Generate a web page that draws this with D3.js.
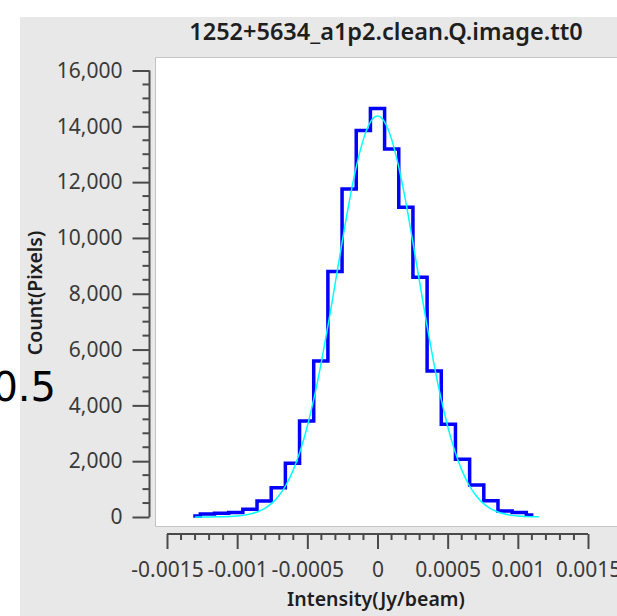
<!DOCTYPE html>
<html>
<head>
<meta charset="utf-8">
<script src="https://cdn.jsdelivr.net/npm/d3@7"></script>
<style>
  html, body { margin: 0; padding: 0; background: #fff; }
  svg { display: block; }
  .tick text { font-family: "Noto Sans", sans-serif; font-size: 21px; fill: #3a3a3a; }
  .axis path, .axis line { stroke: #4a4a4a; stroke-width: 2; }
</style>
</head>
<body>
<div id="chart"></div>
<script>
"use strict";

// histogram bins (Jy/beam) and counts
var binCenters = [-0.001313, -0.001212, -0.001111, -0.001010, -0.000909, -0.000808,
    -0.000707, -0.000606, -0.000505, -0.000404, -0.000303, -0.000202, -0.000101,
    0, 0.000101, 0.000202, 0.000303, 0.000404, 0.000505, 0.000606, 0.000707,
    0.000808, 0.000909, 0.001010, 0.001111];
var binCounts = [36, 110, 130, 160, 276, 573, 1050, 1925, 3441, 5590, 8800, 11756,
    13846, 14634, 13190, 11100, 8591, 5233, 3322, 2068, 1147, 584, 215, 160, 72];

// fitted curve (cyan)
var fitX = [-0.0013, -0.00125, -0.0012, -0.00115, -0.0011, -0.00105, -0.001, -0.00095,
    -0.0009, -0.00085, -0.0008, -0.00075, -0.0007, -0.00065, -0.0006, -0.00055, -0.0005,
    -0.00045, -0.0004, -0.00035, -0.0003, -0.00025, -0.0002, -0.00015, -0.0001, -0.00005,
    0, 0.00005, 0.0001, 0.00015, 0.0002, 0.00025, 0.0003, 0.00035, 0.0004, 0.00045,
    0.0005, 0.00055, 0.0006, 0.00065, 0.0007, 0.00075, 0.0008, 0.00085, 0.0009,
    0.00095, 0.001, 0.00105, 0.0011, 0.00115];
var fitY = [1, 2, 3, 6, 11, 20, 38, 67, 116, 196, 320, 507, 780, 1165, 1690, 2379, 3251,
    4311, 5551, 6937, 8415, 9910, 11330, 12571, 13541, 14158, 14370, 14158, 13541,
    12571, 11330, 9910, 8415, 6937, 5551, 4311, 3251, 2379, 1690, 1165, 780, 507, 320,
    196, 116, 67, 38, 20, 11, 6];

var xTickValues = [-0.0015, -0.001, -0.0005, 0, 0.0005, 0.001, 0.0015];
var xTickLabels = ["-0.0015", "-0.001", "-0.0005", "0", "0.0005", "0.001", "0.0015"];
var yTickValues = [0, 2000, 4000, 6000, 8000, 10000, 12000, 14000, 16000];

var title = "1252+5634_a1p2.clean.Q.image.tt0",
    xTitle = "Intensity(Jy/beam)",
    yTitle = "Count(Pixels)";

var width = 617,
    height = 616,
    svg = d3.select("#chart").append("svg")
        .attr("width", width)
        .attr("height", height);

var x = d3.scaleLinear().domain([-0.0015, 0.0015]).range([167, 588]),
    y = d3.scaleLinear().domain([0, 16000]).range([517, 70.5]);

// gray panel
svg.append("rect")
    .attr("x", 20).attr("y", 17)
    .attr("width", width - 20).attr("height", height - 17)
    .attr("fill", "#e8e8e8");

svg.append("text")
    .attr("x", 386).attr("y", 40)
    .attr("text-anchor", "middle")
    .style("font-family", "Noto Sans, sans-serif")
    .style("font-weight", 600)
    .style("font-size", "23.5px")
    .style("fill", "#1e1e1e")
    .text(title);

// plot canvas
svg.append("rect")
    .attr("x", 155.5).attr("y", 57.5)
    .attr("width", width - 155).attr("height", 469)
    .attr("fill", "#fff")
    .attr("stroke", "#c4c4c4");

// y axis (ticks pointing left)
var yAxis = svg.append("g").attr("class", "axis")
    .attr("transform", "translate(149.5,0)")
    .call(d3.axisLeft(y).tickValues(yTickValues)
        .tickFormat(d3.format(",")).tickSize(17).tickPadding(10).tickSizeOuter(0));
yAxis.select(".domain").remove();
yAxis.append("g")
    .selectAll("line")
    .data(d3.range(0, 16001, 500).filter(function (d) { return d % 2000 !== 0; }))
    .enter().append("line")
    .attr("x1", -7).attr("x2", 0)
    .attr("y1", function (d) { return y(d); })
    .attr("y2", function (d) { return y(d); });
yAxis.append("line")
    .attr("x1", 0).attr("x2", 0)
    .attr("y1", y(0)).attr("y2", y(16000));

// x axis (ticks pointing down)
var xAxis = svg.append("g").attr("class", "axis")
    .attr("transform", "translate(0,534)")
    .call(d3.axisBottom(x).tickValues(xTickValues)
        .tickFormat(function (d, i) { return xTickLabels[i]; })
        .tickSize(15).tickPadding(13).tickSizeOuter(0));
xAxis.select(".domain").remove();
xAxis.append("g")
    .selectAll("line")
    .data(d3.range(-15, 16).filter(function (d) { return d % 5 !== 0; }))
    .enter().append("line")
    .attr("y1", 0).attr("y2", 6)
    .attr("x1", function (d) { return x(d * 0.0001); })
    .attr("x2", function (d) { return x(d * 0.0001); });
xAxis.append("line")
    .attr("y1", 0).attr("y2", 0)
    .attr("x1", x(-0.0015)).attr("x2", x(0.0015));

// axis titles
svg.append("text")
    .attr("transform", "translate(42,293) rotate(-90)")
    .attr("text-anchor", "middle")
    .style("font-family", "Noto Sans, sans-serif")
    .style("font-weight", 600)
    .style("font-size", "19.5px")
    .style("fill", "#1e1e1e")
    .text(yTitle);

svg.append("text")
    .attr("x", 376).attr("y", 606)
    .attr("text-anchor", "middle")
    .style("font-family", "Noto Sans, sans-serif")
    .style("font-weight", 600)
    .style("font-size", "19.5px")
    .style("fill", "#1e1e1e")
    .text(xTitle);

// histogram
var hist = d3.line()
    .x(function (d, i) { return x(binCenters[i]); })
    .y(function (d) { return y(d); })
    .curve(d3.curveStep);

svg.append("path")
    .attr("d", hist(binCounts))
    .attr("fill", "none")
    .attr("stroke", "#0000ff")
    .attr("stroke-width", 3.5);

var fit = d3.line()
    .x(function (d, i) { return x(fitX[i]); })
    .y(function (d) { return y(d); })
    .curve(d3.curveMonotoneX);

svg.append("path")
    .attr("d", fit(fitY))
    .attr("fill", "none")
    .attr("stroke", "#00ffff")
    .attr("stroke-width", 1.5);

// stray label
svg.append("text")
    .attr("x", 56).attr("y", 401)
    .attr("text-anchor", "end")
    .style("font-family", "DejaVu Sans, sans-serif")
    .style("font-size", "40px")
    .style("fill", "#000")
    .text("0.5");
</script>
</body>
</html>
